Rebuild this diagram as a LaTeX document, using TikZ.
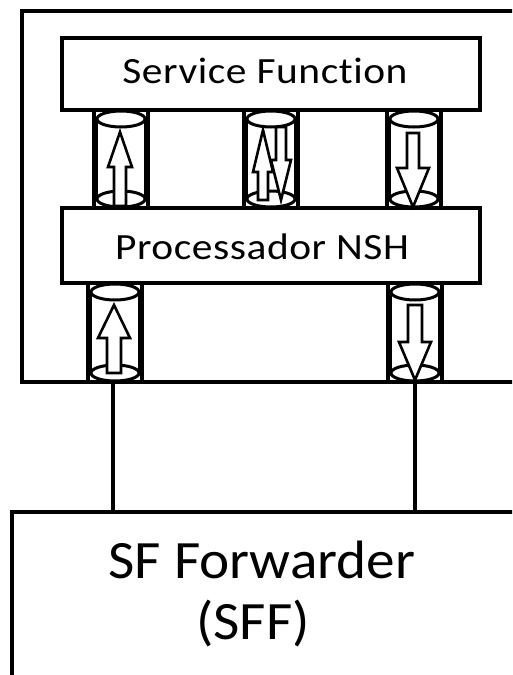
\documentclass[tikz,border=0pt]{standalone}
\usepackage{fontspec}
\setmainfont{Carlito}[Ligatures=NoCommon]
\newfontfamily\smallfont{Carlito}[Ligatures=NoCommon, FakeStretch=1.12, LetterSpace=1.5]
\newfontfamily\bigfont{Carlito}[Ligatures=NoCommon, FakeStretch=1.06]
\begin{document}
\begin{tikzpicture}[x=1pt,y=-1pt,
  box/.style={draw, line width=3.8pt, anchor=north west, inner sep=0pt, outer sep=0pt},
  lbl/.style={inner sep=0pt, anchor=base, font=\smallfont\fontsize{37}{40}\selectfont},
  biglbl/.style={inner sep=0pt, anchor=base, font=\bigfont\fontsize{54}{60}\selectfont},
  bar/.style={line width=4pt},
  cylline/.style={line width=3pt},
  cylthin/.style={line width=1.2pt},
  blk/.style={draw, fill=white, line width=2.6pt, line join=miter},
  conn/.style={line width=3.5pt}]
\clip (0,0) rectangle (512,675);
\useasboundingbox (0,0) rectangle (512,675);
\fill[white] (0,0) rectangle (512,675);

% boxes
\node[box, minimum width=520pt, minimum height=371pt] (outer) at (22,11) {};
\node[box, minimum width=418pt, minimum height=72pt] (sf) at (62,38) {};
\node[box, minimum width=418pt, minimum height=75pt] (nsh) at (62,208) {};
\node[box, minimum width=530pt, minimum height=200pt] (sff) at (12,512) {};
\node[lbl] (sftxt) at (265,83) {Service Function};
\node[lbl] (nshtxt) at (262,259) {Processador NSH};
\node[biglbl] (sfftxt1) at (262,578) {SF Forwarder};
\node[biglbl] (sfftxt2) at (253,639) {(SFF)};

% cylinder macro: center x, top y, bottom y
\newcommand{\mycyl}[3]{%
  \draw[bar] (#1-27,#2) -- (#1-27,#3);
  \draw[bar] (#1+27,#2) -- (#1+27,#3);
  \draw[cylthin] (#1-24,#2+9) -- (#1-24,#3-9);
  \draw[cylthin] (#1+24,#2+9) -- (#1+24,#3-9);
  \draw[cylline, fill=white] (#1,#2+9) ellipse [x radius=24, y radius=8];
  \draw[cylline, fill=white] (#1,#3-9) ellipse [x radius=24, y radius=8];
}
% block arrow: center x, tip y, head base y, tail y, half shaft, half head
\newcommand{\blkarr}[6]{%
  \draw[blk] (#1-#5,#4) -- (#1-#5,#3) -- (#1-#6,#3) -- (#1,#2) -- (#1+#6,#3) -- (#1+#5,#3) -- (#1+#5,#4) -- cycle;
}

% top cylinders
\mycyl{121}{110}{208}
\mycyl{271}{110}{208}
\mycyl{414}{110}{208}
\blkarr{120}{132}{167}{206}{6}{12}
\blkarr{263}{130}{172}{200}{5}{10}
\blkarr{281}{200}{160}{127}{5}{10}
\blkarr{413}{207}{168}{133}{6}{16}

% bottom cylinders
\mycyl{115}{283}{382}
\mycyl{415}{283}{382}
\blkarr{114}{305}{338}{373}{7}{16}
\blkarr{415}{380}{342}{305}{7}{16}

% connectors
\coordinate (c1) at (113,382);
\coordinate (c2) at (415,382);
\draw[conn] (c1) -- (c1 |- sff.north);
\draw[conn] (c2) -- (c2 |- sff.north);
\end{tikzpicture}
\end{document}
